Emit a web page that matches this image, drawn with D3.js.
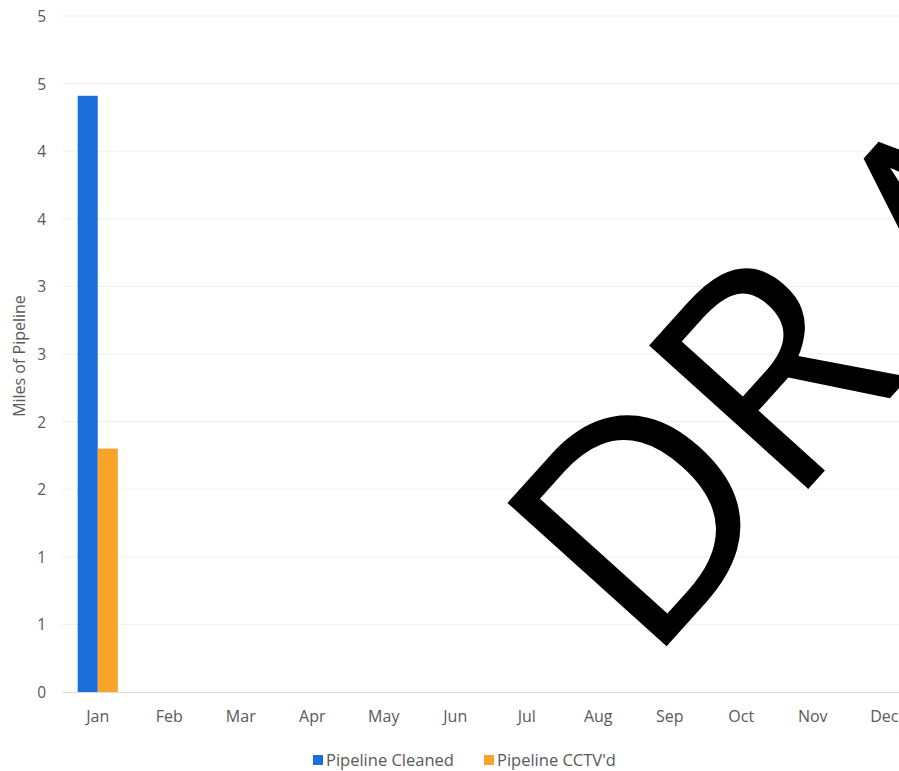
<!DOCTYPE html>
<html><head><meta charset="utf-8">
<script src="https://cdn.jsdelivr.net/npm/d3@7"></script>
<style>
html,body{margin:0;padding:0;background:#fff;}
svg{display:block;}
</style></head>
<body>
<svg id="chart" width="899" height="771"></svg>
<script>
const months = ["Jan","Feb","Mar","Apr","May","Jun","Jul","Aug","Sep","Oct","Nov","Dec"];
const pipelineCleaned = [4.41,0,0,0,0,0,0,0,0,0,0,0];
const pipelineCCTV = [1.80,0,0,0,0,0,0,0,0,0,0,0];
const seriesNames = ["Pipeline Cleaned","Pipeline CCTV'd"];
const seriesColors = ["#1b6fdc","#f8a42b"];
const yTickValues = [0,0.5,1,1.5,2,2.5,3,3.5,4,4.5,5];
const yTickLabels = ["0","1","1","2","2","3","3","4","4","5","5"];
const watermarkLetters = ["D","R","A","F","T"];

const svg = d3.select("#chart");
const W = 899, H = 771;
const font = "'Open Sans', sans-serif";
const textColor = "#595959";

const x = d3.scaleBand().domain(months).range([62, 920]).paddingInner(0).paddingOuter(0);
const x1 = d3.scaleBand().domain([0,1]).range([0, x.bandwidth()]).paddingInner(0).paddingOuter(0.78);
const y = d3.scaleLinear().domain([0,5]).range([692,16]);

// gridlines
svg.append("g").selectAll("line").data(yTickValues.slice(1)).join("line")
  .attr("x1", 62).attr("x2", W).attr("y1", d=>y(d)).attr("y2", d=>y(d))
  .attr("stroke", "#efefef").attr("stroke-width", 1);

// y axis labels
const yAxis = d3.axisLeft(y).tickValues(yTickValues).tickFormat((d,i)=>yTickLabels[i]).tickSize(0).tickPadding(0);
const gy = svg.append("g").attr("transform","translate(46,0)").call(yAxis);
gy.select(".domain").remove();
gy.selectAll("text").attr("font-family", font).attr("font-size", 15.5).attr("fill", textColor).attr("text-anchor","end").attr("dy","0.35em");

// x axis
const xAxis = d3.axisBottom(x).tickSize(0).tickPadding(19);
const gx = svg.append("g").attr("transform","translate(0,692)").call(xAxis);
gx.select(".domain").attr("stroke","#d9d9d9").attr("stroke-width",1);
gx.selectAll("text").attr("font-family", font).attr("font-size", 16).attr("fill", textColor);

// bars
const rows = months.map((m,i)=>({m, vals:[pipelineCleaned[i], pipelineCCTV[i]]}));
svg.append("g").selectAll("g").data(rows).join("g")
  .attr("transform", d=>`translate(${x(d.m)},0)`)
  .selectAll("rect").data(d=>d.vals.map((v,k)=>({v,k}))).join("rect")
  .attr("x", d=>x1(d.k)).attr("width", x1.bandwidth())
  .attr("y", d=>y(d.v)).attr("height", d=>y(0)-y(d.v))
  .attr("fill", d=>seriesColors[d.k]);

// y axis title
svg.append("text").attr("transform","translate(25,356) rotate(-90)")
  .attr("text-anchor","middle").attr("font-family",font).attr("font-size",16).attr("fill",textColor)
  .text("Miles of Pipeline");

// legend
const legend = svg.append("g").attr("transform","translate(313,760)");
const legendX = [0, 171];
seriesNames.forEach((n,i)=>{
  const g = legend.append("g").attr("transform",`translate(${legendX[i]},0)`);
  g.append("rect").attr("x",0).attr("y",-5).attr("width",10).attr("height",10).attr("fill",seriesColors[i]);
  g.append("text").attr("x",13).attr("y",0).attr("dy","0.35em").attr("font-family",font).attr("font-size",16.5).attr("fill",textColor).text(n);
});

// watermark
const letterDx = [0,-6,43,0,0];
const letterDy = [0,0,35,0,0];
const wm = svg.append("text").attr("transform","translate(647,668) rotate(-48)")
  .attr("font-family",font).attr("font-size",300).attr("fill","#000");
wm.selectAll("tspan").data(watermarkLetters).join("tspan")
  .attr("dx",(d,i)=>letterDx[i]).attr("dy",(d,i)=>letterDy[i]).text(d=>d);
</script>
</body></html>
